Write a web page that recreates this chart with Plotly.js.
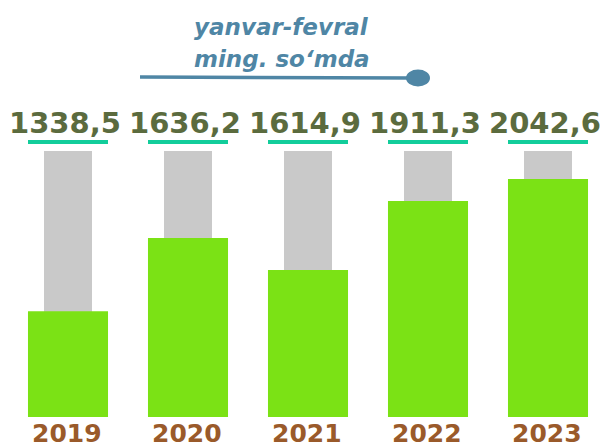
<!DOCTYPE html>
<html>
<head>
<meta charset="utf-8">
<script src="https://cdn.plot.ly/plotly-3.0.1.min.js"></script>
<style>
html,body{margin:0;padding:0;background:#fff;}
#chart{width:611px;height:448px;}
</style>
</head>
<body>
<div id="chart"></div>
<script>
// Data
var years = ["2019", "2020", "2021", "2022", "2023"];
var values = [1338.5, 1636.2, 1614.9, 1911.3, 2042.6];
var valueLabels = ["1338,5", "1636,2", "1614,9", "1911,3", "2042,6"];
// bar fill level as drawn (percent of grey track)
var barLevel = [39.8, 67.3, 55.3, 81.2, 89.5];
var trackLevel = [100, 100, 100, 100, 100];
var titleLines = ["yanvar-fevral", "ming. so‘mda"];

var FONT = "DejaVu Sans, Verdana, sans-serif";

var traces = [
  {
    type: "bar", x: years, y: trackLevel, width: 0.4,
    marker: {color: "#c9c9c9", line: {width: 0}},
    hoverinfo: "skip", showlegend: false
  },
  {
    type: "bar", x: years, y: barLevel, width: 0.667,
    customdata: values,
    marker: {color: "#7be215", line: {width: 0}},
    hovertemplate: "%{x}: %{customdata}<extra></extra>", showlegend: false
  }
];

var annotations = [];
for (var i = 0; i < years.length; i++) {
  annotations.push({
    x: i - 0.025, xref: "x", y: 1.1053, yref: "paper",
    text: valueLabels[i], showarrow: false,
    xanchor: "center", yanchor: "middle",
    font: {family: FONT, size: 29, weight: "bold", color: "#5b6b3e"}
  });
  annotations.push({
    x: i - 0.01, xref: "x", y: -0.0602, yref: "paper",
    text: years[i], showarrow: false,
    xanchor: "center", yanchor: "middle",
    font: {family: FONT, size: 25, weight: "bold", color: "#9a5a2a"}
  });
}
annotations.push({
  x: 281 / 611, xref: "paper", y: 1.466, yref: "paper",
  text: titleLines[0], showarrow: false, xanchor: "center", yanchor: "middle",
  font: {family: FONT, size: 23, weight: "bold", style: "italic", color: "#4f86a5"}
});
annotations.push({
  x: 282 / 611, xref: "paper", y: 1.346, yref: "paper",
  text: titleLines[1], showarrow: false, xanchor: "center", yanchor: "middle",
  font: {family: FONT, size: 23, weight: "bold", style: "italic", color: "#4f86a5"}
});

var shapes = [];
for (var j = 0; j < years.length; j++) {
  shapes.push({
    type: "rect", xref: "x", yref: "paper",
    x0: j - 1 / 3, x1: j + 1 / 3, y0: 1.0263, y1: 1.0414,
    fillcolor: "#12cd9b", line: {width: 0}
  });
}
shapes.push({
  type: "line", xref: "paper", yref: "paper",
  x0: 140 / 611, x1: 412 / 611, y0: 1.278, y1: 1.274,
  line: {color: "#4f86a5", width: 3.5}
});
shapes.push({
  type: "circle", xref: "paper", yref: "paper",
  x0: 406 / 611, x1: 430 / 611, y0: 1.2425, y1: 1.3064,
  fillcolor: "#4f86a5", line: {width: 0}
});

var layout = {
  width: 611, height: 448,
  margin: {l: 0, r: 0, t: 151, b: 31, pad: 0},
  paper_bgcolor: "#ffffff", plot_bgcolor: "#ffffff",
  barmode: "overlay",
  showlegend: false,
  xaxis: {
    type: "category", range: [-0.5667, 4.525],
    showgrid: false, zeroline: false, showline: false, ticks: "",
    showticklabels: false,
    fixedrange: true
  },
  yaxis: {
    range: [0, 100], visible: false, showgrid: false, zeroline: false,
    fixedrange: true
  },
  annotations: annotations,
  shapes: shapes
};

Plotly.newPlot("chart", traces, layout, {displayModeBar: false, staticPlot: true});
</script>
</body>
</html>
